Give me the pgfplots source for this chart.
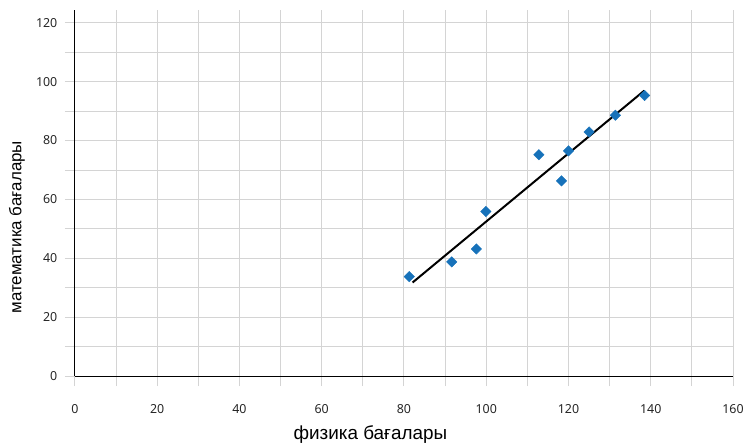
\documentclass[border=0pt]{standalone}
\usepackage{fontspec}
\setmainfont{Noto Sans}
\newfontfamily\labfont{Liberation Sans}
\usepackage{pgfplots}
\pgfplotsset{compat=1.18}
\definecolor{pt}{RGB}{23,114,186}
\definecolor{gridc}{RGB}{212,212,212}
\begin{document}
\begin{tikzpicture}
\begin{axis}[name=ax, at={(0,0)}, anchor=south west,
  scale only axis, width=659.6bp, height=367bp,
  xmin=0, xmax=160, ymin=0, ymax=124.3,
  axis x line*=bottom, axis y line*=left,
  axis line style={black, line width=1.1bp, -},
  xtick={0,20,...,160}, minor xtick={10,30,...,150},
  ytick={0,20,...,120}, minor ytick={10,30,...,110},
  grid=both,
  major grid style={gridc, line width=0.9bp},
  minor grid style={gridc, line width=0.9bp},
  tick align=outside,
  major tick length=10bp, minor tick length=10bp,
  tick style={gridc, line width=0.9bp},
  /pgf/number format/assume math mode=true,
  ticklabel style={font=\fontsize{12.5}{14}\selectfont, text=black!85},
  xticklabel style={yshift=-15bp},
  yticklabel style={xshift=-4bp},
  xlabel={физика бағалары},
  ylabel={математика бағалары},
  xlabel style={font=\labfont\fontsize{19}{21}\selectfont, at={(axis description cs:0.449,-0.159)}, anchor=center},
  ylabel style={font=\labfont\fontsize{17}{19}\selectfont, at={(axis description cs:-0.0879,0.407)}, anchor=center, rotate=0},
  clip=false,
]
\addplot[only marks, mark=square*, mark size=3.7bp, mark options={rotate=45, fill=pt, draw=pt}]
coordinates {
(81.3,33.8) (91.6,38.8) (97.6,43.2) (99.9,55.9) (112.8,75.2)
(118.3,66.3) (120.0,76.5) (125.0,82.9) (131.4,88.6) (138.5,95.3)
};
\addplot[black, line width=2bp, no marks] coordinates {(82.1,31.8) (138.4,96.9)};
\end{axis}
\useasboundingbox ([xshift=-75bp,yshift=-68bp]ax.south west) rectangle ([xshift=672bp,yshift=377bp]ax.south west);
\end{tikzpicture}
\end{document}
